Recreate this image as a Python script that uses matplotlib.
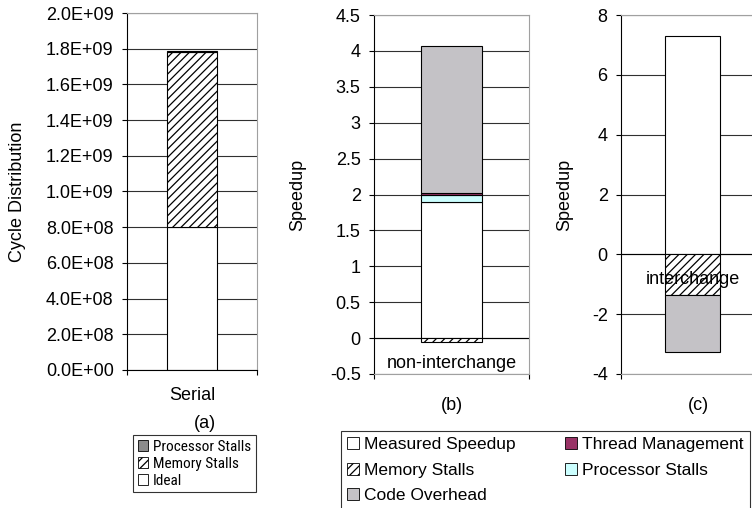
import matplotlib
matplotlib.use('Agg')
from matplotlib import pyplot as plt
from matplotlib import font_manager
from matplotlib.patches import Patch
from matplotlib.ticker import FuncFormatter, MultipleLocator
import numpy as np

plt.rcParams['font.family'] = ['Liberation Sans', 'DejaVu Sans']
plt.rcParams['axes.unicode_minus'] = False
plt.rcParams['hatch.linewidth'] = 0.9

# (a) serial cycle distribution
a_labels = ['Ideal', 'Memory Stalls', 'Processor Stalls']
a_values = [8.0e8, 9.8e8, 0.005e9]
a_category = 'Serial'

# (b) non-interchange speedup breakdown
b_labels = ['Measured Speedup', 'Processor Stalls', 'Thread Management', 'Code Overhead', 'Memory Stalls']
b_values = [1.89, 0.11, 0.015, 2.05, -0.06]
b_category = 'non-interchange'

# (c) interchange speedup breakdown
c_labels = ['Measured Speedup', 'Memory Stalls', 'Code Overhead']
c_values = [7.30, -1.35, -1.92]
c_category = 'interchange'

styles = {
    'Ideal': dict(facecolor='white'),
    'Measured Speedup': dict(facecolor='white'),
    'Memory Stalls': dict(facecolor='white', hatch='////'),
    'Processor Stalls': dict(facecolor='#ccffff'),
    'Thread Management': dict(facecolor='#993366'),
    'Code Overhead': dict(facecolor='#c4c2c6'),
}
a_styles = dict(styles)
a_styles['Processor Stalls'] = dict(facecolor='#8c8c8c')

fs = 13
W, H = 752, 508
fig = plt.figure(figsize=(W / 100, H / 100), dpi=100)

# legend (a) text in the original is condensed
installed = {f.name for f in font_manager.fontManager.ttflist}
leg_a_font = dict(family='Liberation Sans', size=10.5)
for name in ['Liberation Sans Narrow', 'Roboto Condensed', 'DejaVu Sans Condensed']:
    if name in installed:
        leg_a_font = dict(family=name, size=11)
        break


def box(l, r, t, b):
    return [l / W, 1 - b / H, (r - l) / W, (b - t) / H]


def stack(ax, labels, values, sty):
    pos, neg = 0.0, 0.0
    for lab, v in zip(labels, values):
        if v >= 0:
            ax.bar(0, v, 0.39, bottom=pos, edgecolor='black', linewidth=0.8, zorder=2, **sty[lab])
            pos += v
        else:
            ax.bar(0, v, 0.39, bottom=neg, edgecolor='black', linewidth=0.8, zorder=2, **sty[lab])
            neg += v


def style_axes(ax, ylim, step, fmt, zero_line):
    ax.set_xlim(-0.5, 0.5)
    ax.set_ylim(*ylim)
    ax.yaxis.set_major_locator(MultipleLocator(step))
    ax.yaxis.set_major_formatter(FuncFormatter(fmt))
    ax.set_axisbelow(True)
    ax.yaxis.grid(True, color='#303030', linewidth=0.8)
    for s in ['top', 'right', 'bottom']:
        ax.spines[s].set_color('#a0a0a0')
        ax.spines[s].set_linewidth(0.8)
    ax.spines['left'].set_color('black')
    ax.spines['left'].set_linewidth(0.8)
    ax.tick_params(axis='y', direction='out', length=3.6, width=0.8, pad=6, labelsize=fs)
    ax.set_xticks([-0.5, 0.5], minor=True)
    ax.set_xticks([])
    ax.tick_params(axis='x', which='minor', direction='out', length=3.6, width=0.8)
    if zero_line:
        ax.axhline(0, color='black', linewidth=0.8, zorder=1.5)
    else:
        ax.spines['bottom'].set_color('black')


ax1 = fig.add_axes(box(127, 257, 13, 370))
stack(ax1, a_labels, a_values, a_styles)
style_axes(ax1, (0, 2.0e9), 2e8, lambda v, p: '{:.1E}'.format(v), False)
ax1.set_ylabel('Cycle Distribution', fontsize=fs, va='center')
ax1.yaxis.set_label_coords((18 - 127) / 130, 0.5)

ax2 = fig.add_axes(box(374, 529, 15, 374))
stack(ax2, b_labels, b_values, styles)
style_axes(ax2, (-0.5, 4.5), 0.5, lambda v, p: '%g' % v, True)
ax2.set_ylabel('Speedup', fontsize=fs, va='center')
ax2.yaxis.set_label_coords((298 - 374) / 155, 0.5)

ax3 = fig.add_axes(box(621, 764, 15, 374))
stack(ax3, c_labels, c_values, styles)
style_axes(ax3, (-4, 8), 2, lambda v, p: '%g' % v, True)
ax3.set_ylabel('Speedup', fontsize=fs, va='center')
ax3.yaxis.set_label_coords((565 - 621) / 143, 0.5)

for ax, cat in [(ax1, a_category), (ax2, b_category), (ax3, c_category)]:
    ax.annotate(cat, xy=(0, 0), xytext=(0, -25), textcoords='offset pixels',
                ha='center', va='center', fontsize=fs, zorder=5)

fig.text(205 / W, 1 - 424 / H, '(a)', ha='center', va='center', fontsize=fs)
fig.text(452 / W, 1 - 405 / H, '(b)', ha='center', va='center', fontsize=fs)
fig.text(698 / W, 1 - 405 / H, '(c)', ha='center', va='center', fontsize=fs)

a_order = ['Processor Stalls', 'Memory Stalls', 'Ideal']
leg_a = [Patch(edgecolor='black', linewidth=0.6, **a_styles[k]) for k in a_order]
la = fig.legend(leg_a, a_order,
                loc='upper left', bbox_to_anchor=(133 / W, 1 - 435 / H),
                prop=leg_a_font, frameon=True, fancybox=False, edgecolor='black',
                borderaxespad=0, handlelength=0.7, handleheight=0.7,
                handletextpad=0.3, labelspacing=0.2, borderpad=0.3)
la.get_frame().set_linewidth(0.8)

b_order = ['Measured Speedup', 'Memory Stalls', 'Code Overhead', 'Thread Management', 'Processor Stalls']
leg_b = [Patch(edgecolor='black', linewidth=0.6, **styles[k]) for k in b_order]
lb = fig.legend(leg_b, b_order, ncol=2,
                loc='upper left', bbox_to_anchor=(341 / W, 1 - 431 / H),
                fontsize=12.5, frameon=True, fancybox=False, edgecolor='black',
                borderaxespad=0, handlelength=0.7, handleheight=0.7,
                handletextpad=0.3, labelspacing=0.6, borderpad=0.35,
                columnspacing=2.8)
lb.get_frame().set_linewidth(0.8)

fig.savefig('out.png', dpi=100)
